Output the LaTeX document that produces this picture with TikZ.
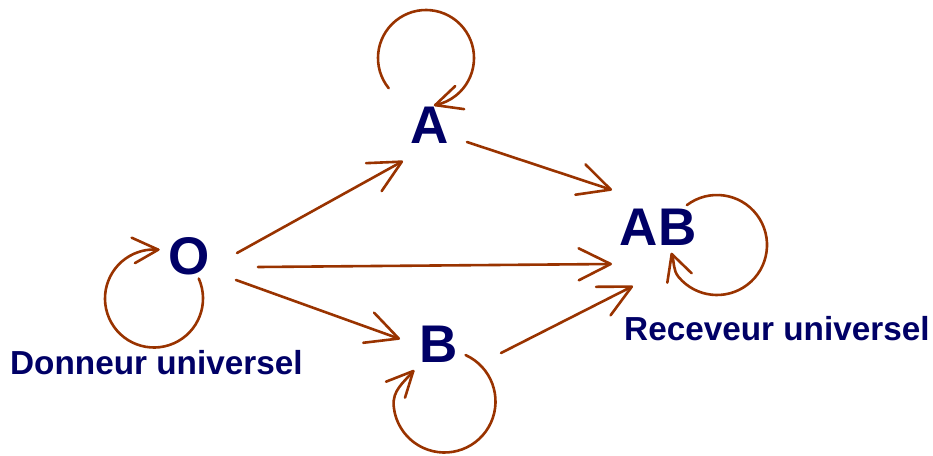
\documentclass[tikz,border=0pt]{standalone}
\usepackage{fontspec}
\setmainfont{Liberation Sans}
\usetikzlibrary{arrows.meta}
\definecolor{edgebrown}{HTML}{993300}
\definecolor{navy}{HTML}{000066}
\begin{document}
\begin{tikzpicture}[x=1pt,y=1pt,
  grp/.style={inner sep=0pt, text=navy, font=\fontsize{53}{60}\selectfont\bfseries},
  lbl/.style={inner sep=0pt, text=navy, font=\fontsize{33.3}{40}\selectfont\bfseries, anchor=base west},
  wire/.style={draw=edgebrown, line width=2.6pt, line cap=round, line join=round},
  edge/.style={wire,
    -{Straight Barb[length=32pt,width=32pt,line join=round,line cap=round]}}]
\useasboundingbox (0,0) rectangle (933,-455);
\node[grp] (O) at (189,-256) {O};
\node[grp] (A) at (430,-125) {A};
\node[grp] (B) at (439,-344) {B};
\node[grp] (AB) at (658,-227) {AB};
\node[lbl] (don) at (10,-374) {Donneur universel};
\node[lbl] (rec) at (624,-340) {Receveur universel};
% straight edges
\draw[edge] ([shift={(48,3)}]O.center) -- ([shift={(-27,-36)}]A.center);
\draw[edge] ([shift={(69,-11)}]O.center) -- ([shift={(-46,-37)}]AB.center);
\draw[edge] ([shift={(47,-24)}]O.center) -- ([shift={(-39,5)}]B.center);
\draw[edge] ([shift={(37,-17)}]A.center) -- ([shift={(-46,37)}]AB.center);
\draw[edge] ([shift={(62,-9)}]B.center) -- ([shift={(-25,-59)}]AB.center);
% loop centres and tips
\coordinate (Ac) at ([shift={(-4,67)}]A.center);
\coordinate (Oc) at ([shift={(-35,-42.5)}]O.center);
\coordinate (Bc) at ([shift={(5.5,-57.5)}]B.center);
\coordinate (ABc) at ([shift={(59,-18)}]AB.center);
\coordinate (Btip) at ([shift={(-25.7,-27)}]B.center);
\coordinate (ABtip) at ([shift={(13.7,-27)}]AB.center);
% loop on A
\draw[wire] ([shift={(219:48)}]Ac) arc[start angle=219, end angle=-79, radius=48] coordinate (Atip);
\draw[wire] ([shift={(20,19)}]Atip) -- (Atip) -- ++(29,-4);
% loop on O
\draw[wire] ([shift={(24:49)}]Oc) arc[start angle=24, end angle=-275, radius=49] coordinate (Otip);
\draw[wire] ([shift={(-26.6,12)}]Otip) -- (Otip) -- ++(-23.3,-13.4);
% loop on B
\draw[wire] ([shift={(65.6:51)}]Bc) arc[start angle=65.6, end angle=-175, radius=51] to[out=95, in=230] (Btip);
\draw[wire] ([shift={(-27.3,-10.7)}]Btip) -- (Btip) -- ++(-8.3,-26.7);
% loop on AB
\draw[wire] ([shift={(127:50)}]ABc) arc[start angle=127, end angle=-140, radius=50] to[out=130, in=289] (ABtip);
\draw[wire] ([shift={(20,-19.3)}]ABtip) -- (ABtip) -- ++(-4.4,-28.7);
\end{tikzpicture}
\end{document}
